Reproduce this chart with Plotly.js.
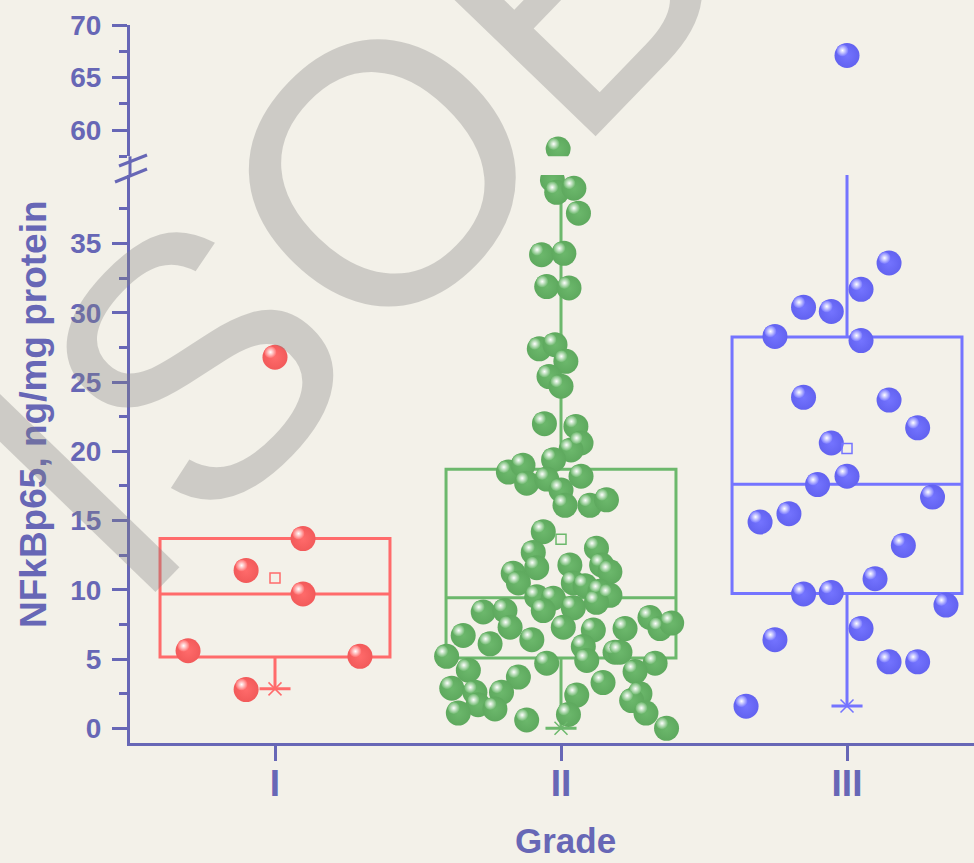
<!DOCTYPE html>
<html>
<head>
<meta charset="utf-8">
<script src="https://cdn.plot.ly/plotly-3.0.1.min.js"></script>
<style>html,body{margin:0;padding:0;background:#f3f1e9;}#chart{width:974px;height:863px;}</style>
</head>
<body>
<div id="chart"></div>
<script>
// ---------------- data ----------------
const categories = ['I', 'II', 'III'];
const categoryPos = [0, 1, 2];

// Grade I points: horizontal jitter (fraction of a category) and value
const gradeI_jitter = [0.0, 0.098, -0.101, 0.098, -0.304, 0.297, -0.101];
const gradeI_values = [26.8, 13.7, 11.4, 9.7, 5.6, 5.2, 2.8];

// Grade II points
const gradeII_jitter = [
  -0.01, -0.03, -0.015, 0.045, 0.061, -0.068, 0.01, -0.05, 0.028, -0.076,
  -0.021, 0.017, -0.042, 0.0, -0.058, 0.052, 0.07, 0.035, -0.184, -0.133,
  -0.026, -0.12, -0.05, 0.0, 0.07, 0.014, 0.101, 0.159, -0.062, -0.097,
  -0.085, 0.124, 0.031, 0.142, 0.171, -0.167, -0.149, 0.043, 0.084, 0.136,
  0.171, -0.085, -0.027, -0.062, 0.043, 0.124, -0.272, -0.196, -0.178, 0.008,
  0.113, 0.224, 0.311, 0.346, 0.387, -0.342, -0.248, -0.102, 0.078, 0.189,
  0.206, -0.4, -0.05, 0.09, 0.329, -0.324, -0.149, 0.259, -0.382, -0.301,
  -0.208, 0.147, 0.055, 0.276, 0.247, -0.29, -0.231, -0.359, -0.12, 0.026,
  0.297, 0.369
];
const gradeII_values = [
  58.2, 39.6, 38.7, 39.0, 37.2, 34.2, 34.3, 31.9, 31.8, 27.4,
  27.7, 26.5, 25.4, 24.7, 22.0, 21.8, 20.6, 20.1, 18.5, 19.0,
  19.4, 17.7, 18.0, 17.2, 18.2, 16.1, 16.1, 16.5, 14.2, 12.7,
  11.6, 13.0, 11.8, 11.8, 11.3, 11.2, 10.5, 10.5, 10.3, 9.9,
  9.6, 9.5, 9.4, 8.5, 8.7, 9.1, 8.4, 8.5, 7.3, 7.3,
  7.1, 7.2, 8.0, 7.2, 7.6, 6.7, 6.1, 6.4, 5.9, 5.5,
  5.5, 5.2, 4.7, 4.9, 4.7, 4.2, 3.7, 4.1, 2.9, 2.6,
  2.6, 3.3, 2.4, 2.5, 2.0, 1.7, 1.4, 1.1, 0.6, 1.0,
  1.1, 0.0
];

// Grade III points
const gradeIII_jitter = [
  0.0, 0.147, 0.049, -0.152, -0.055, -0.252, 0.049, -0.152, 0.147, 0.247,
  -0.055, 0.0, -0.103, 0.299, -0.203, -0.304, 0.197, 0.098, -0.152, -0.055,
  0.346, 0.049, -0.252, 0.147, 0.247, -0.353
];
const gradeIII_values = [
  67.1, 33.6, 31.7, 30.4, 30.1, 28.3, 28.0, 23.9, 23.7, 21.7,
  20.6, 18.2, 17.6, 16.7, 15.5, 14.9, 13.2, 10.8, 9.7, 9.8,
  8.9, 7.2, 6.4, 4.8, 4.8, 1.6
];

// Box statistics
const boxQ1 = [5.15, 5.07, 9.74];
const boxMedian = [9.7, 9.43, 17.63];
const boxQ3 = [13.71, 18.7, 28.26];
const boxLowerWhisker = [2.85, 0.0, 1.61];
const boxUpperWhisker = [13.71, 40.5, 56.0];
const groupMeans = [10.85, 13.66, 20.2];

// ---------------- style ----------------
const AX = '#6767b6';
const FONT = 'Arial, "Liberation Sans", sans-serif';
const groupColors = ['#ff6b6b', '#6cb86c', '#7474ff'];
const groupEdge = ['#f25a5a', '#5ea95e', '#6262f0'];
const xRange = [-0.507, 2.444];
const lowRange = [-1.06, 39.95];
const highRange = [57.5, 70];
const W = 974, H = 863;
const M = {l: 130, r: 0, t: 25, b: 120};
const plotW = W - M.l - M.r, plotH = H - M.t - M.b;
const lowDomain = [0, 0.791];
const highDomain = [0.8171, 1];
const pxPerX = plotW / (xRange[1] - xRange[0]);
const pxPerLow = plotH * (lowDomain[1] - lowDomain[0]) / (lowRange[1] - lowRange[0]);
const pxPerHigh = plotH * (highDomain[1] - highDomain[0]) / (highRange[1] - highRange[0]);
const BREAK = 45;

const groups = [
  {jit: gradeI_jitter, val: gradeI_values},
  {jit: gradeII_jitter, val: gradeII_values},
  {jit: gradeIII_jitter, val: gradeIII_values}
];

const traces = [];

// boxes
categoryPos.forEach((p, i) => {
  traces.push({
    type: 'box', x: [p], q1: [boxQ1[i]], median: [boxMedian[i]], q3: [boxQ3[i]],
    lowerfence: [boxLowerWhisker[i]], upperfence: [boxUpperWhisker[i]],
    width: 0.804, whiskerwidth: 0.135, boxpoints: false,
    line: {color: groupColors[i], width: 3}, fillcolor: 'rgba(0,0,0,0)',
    xaxis: 'x', yaxis: 'y', hoverinfo: 'skip', showlegend: false
  });
});

// points (split at the axis break) + highlight
groups.forEach((g, i) => {
  [['y', v => v < BREAK, pxPerLow], ['y2', v => v >= BREAK, pxPerHigh]].forEach(([ax, test, ppy]) => {
    const xs = [], ys = [], hx = [], hy = [];
    g.val.forEach((v, k) => {
      if (!test(v)) return;
      const x = categoryPos[i] + g.jit[k];
      xs.push(x); ys.push(v);
      hx.push(x - 4.5 / pxPerX); hy.push(v + 5 / ppy);
    });
    if (!xs.length) return;
    traces.push({
      type: 'scatter', mode: 'markers', x: xs, y: ys, xaxis: 'x', yaxis: ax,
      marker: {size: 25, color: groupEdge[i], line: {width: 0},
               gradient: {type: 'radial', color: groupColors[i]}},
      hoverinfo: 'skip', showlegend: false
    });
    traces.push({
      type: 'scatter', mode: 'markers', x: hx, y: hy, xaxis: 'x', yaxis: ax,
      marker: {size: 12, color: groupColors[i], line: {width: 0},
               gradient: {type: 'radial', color: '#ffffff'}},
      hoverinfo: 'skip', showlegend: false
    });
  });
});

// means (open squares) and lower whisker ends (x)
traces.push({
  type: 'scatter', mode: 'markers', x: categoryPos, y: groupMeans, xaxis: 'x', yaxis: 'y',
  marker: {symbol: 'square-open', size: 10, color: groupColors, line: {width: 1.5, color: groupColors}},
  hoverinfo: 'skip', showlegend: false
});
traces.push({
  type: 'scatter', mode: 'markers', x: categoryPos, y: boxLowerWhisker, xaxis: 'x', yaxis: 'y',
  marker: {symbol: 'x-thin', size: 13, color: groupColors, line: {width: 1.5, color: groupColors}},
  hoverinfo: 'skip', showlegend: false, cliponaxis: false
});

const tickFont = {family: FONT, size: 28, color: AX, weight: 'bold'};
const yCommon = {
  anchor: 'x', showline: true, linecolor: AX, linewidth: 3, showgrid: false, zeroline: false,
  ticks: 'outside', ticklen: 15, tickwidth: 3, tickcolor: AX, tickfont: tickFont,
  ticklabelstandoff: 5, fixedrange: true
};

const px2paperX = px => (px - M.l) / plotW;
const px2paperY = py => (H - M.b - py) / plotH;

const layout = {
  width: W, height: H, margin: M,
  paper_bgcolor: '#f3f1e9', plot_bgcolor: 'rgba(0,0,0,0)',
  showlegend: false,
  xaxis: {
    range: xRange, tickvals: categoryPos, ticktext: categories, anchor: 'y',
    showline: true, linecolor: AX, linewidth: 3, showgrid: false, zeroline: false,
    ticks: 'outside', ticklen: 15, tickwidth: 3, tickcolor: AX, ticklabelstandoff: -9,
    tickfont: {family: FONT, size: 37, color: AX, weight: 'bold'}, fixedrange: true
  },
  yaxis: Object.assign({}, yCommon, {
    domain: lowDomain, range: lowRange, tickvals: [0, 5, 10, 15, 20, 25, 30, 35],
    minor: {tick0: 0, dtick: 2.5, ticks: 'outside', ticklen: 8, tickwidth: 3, tickcolor: AX}
  }),
  yaxis2: Object.assign({}, yCommon, {
    domain: highDomain, range: highRange, tickvals: [60, 65, 70],
    minor: {tick0: 0, dtick: 2.5, ticks: 'outside', ticklen: 8, tickwidth: 3, tickcolor: AX}
  }),
  shapes: [
    {type: 'line', xref: 'paper', yref: 'paper', x0: 0, x1: 0,
     y0: lowDomain[1], y1: highDomain[0], line: {color: AX, width: 3}},
    {type: 'line', xref: 'paper', yref: 'paper', x0: px2paperX(119), y0: px2paperY(166),
     x1: px2paperX(147), y1: px2paperY(155), line: {color: AX, width: 3}},
    {type: 'line', xref: 'paper', yref: 'paper', x0: px2paperX(115), y0: px2paperY(182),
     x1: px2paperX(147), y1: px2paperY(169), line: {color: AX, width: 3}}
  ],
  annotations: [
    {text: 'NFkBp65, ng/mg protein', xref: 'paper', yref: 'paper',
     x: px2paperX(33), y: px2paperY(414), textangle: -90, showarrow: false,
     xanchor: 'center', yanchor: 'middle',
     font: {family: FONT, size: 37, color: AX, weight: 'bold'}},
    {text: 'Grade', xref: 'paper', yref: 'paper',
     x: px2paperX(565), y: px2paperY(840), showarrow: false,
     xanchor: 'center', yanchor: 'middle',
     font: {family: FONT, size: 35, color: AX, weight: 'bold'}},
    {text: 'ISOB', xref: 'paper', yref: 'paper',
     x: px2paperX(346), y: px2paperY(209), textangle: -46, showarrow: false,
     xanchor: 'center', yanchor: 'middle',
     font: {family: FONT, size: 370, color: 'rgba(128,128,128,0.33)'}}
  ]
};

Plotly.newPlot('chart', traces, layout, {staticPlot: true, displayModeBar: false});
</script>
</body>
</html>
